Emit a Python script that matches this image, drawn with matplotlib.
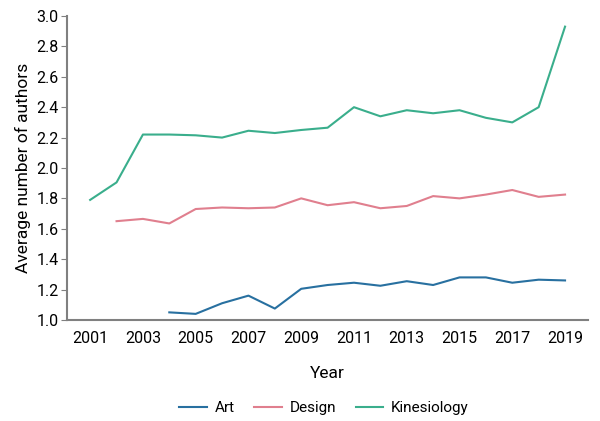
import matplotlib
matplotlib.use('Agg')
import matplotlib.pyplot as plt
from matplotlib import font_manager

# average number of authors per year
years = list(range(2001, 2020))

art_years = list(range(2004, 2020))
art = [1.05, 1.04, 1.11, 1.16, 1.075, 1.205, 1.23, 1.245, 1.225, 1.255, 1.23, 1.28, 1.28, 1.245, 1.265, 1.26]

design_years = list(range(2002, 2020))
design = [1.65, 1.665, 1.635, 1.73, 1.74, 1.735, 1.74, 1.80, 1.755, 1.775, 1.735, 1.75, 1.815, 1.80, 1.825, 1.855, 1.81, 1.825]

kines_years = years
kines = [1.79, 1.905, 2.22, 2.22, 2.215, 2.20, 2.245, 2.23, 2.25, 2.265, 2.40, 2.34, 2.38, 2.36, 2.38, 2.33, 2.30, 2.40, 2.93]

xticks = list(range(2001, 2020, 2))
yticks = [1.0, 1.2, 1.4, 1.6, 1.8, 2.0, 2.2, 2.4, 2.6, 2.8, 3.0]

names = [f.name for f in font_manager.fontManager.ttflist]
if 'Liberation Sans Narrow' in names:
    plt.rcParams['font.family'] = ['Liberation Sans Narrow', 'DejaVu Sans']
else:
    plt.rcParams['font.family'] = ['Roboto', 'DejaVu Sans']

fig = plt.figure(figsize=(6, 4.21), dpi=100)
ax = fig.add_axes([0.112, 0.24, 0.868, 0.722])

ax.plot(art_years, art, color='#2870a0', lw=1.5, label='Art')
ax.plot(design_years, design, color='#e07f8e', lw=1.5, label='Design')
ax.plot(kines_years, kines, color='#3aae8c', lw=1.5, label='Kinesiology')

ax.set_xlim(2000.13, 2019.87)
ax.set_ylim(1.0, 3.0)
ax.set_xticks(xticks)
ax.set_yticks(yticks)
ax.set_yticklabels(['%.1f' % v for v in yticks])

for s in ['top', 'right']:
    ax.spines[s].set_visible(False)
for s in ['left', 'bottom']:
    ax.spines[s].set_color('#808080')
    ax.spines[s].set_linewidth(1.5)
ax.tick_params(axis='y', length=4, color='#808080', labelsize=11.5, pad=2)
ax.tick_params(axis='x', length=0, labelsize=11.5, pad=8)

ax.set_xlabel('Year', fontsize=12.5, labelpad=14)
ax.set_ylabel('Average number of authors', fontsize=12.5, labelpad=4)

fig.legend(loc='center', bbox_to_anchor=(0.54, 1 - 408 / 421), ncol=3,
           frameon=False, fontsize=11, handlelength=1.8, columnspacing=1.3,
           handletextpad=0.5)

fig.savefig('out.png', dpi=100)
